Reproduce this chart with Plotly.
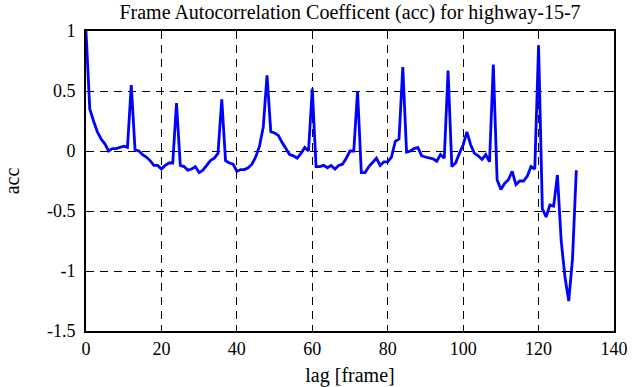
import plotly.graph_objects as go

lags = list(range(0, 131))
acc = [
    1.00, 0.35, 0.25, 0.16, 0.10, 0.06, 0.00, 0.02, 0.02, 0.03,   # 0-9
    0.04, 0.03, 0.55, 0.01, 0.00, -0.03, -0.05, -0.08, -0.12, -0.12,  # 10-19
    -0.15, -0.12, -0.10, -0.10, 0.40, -0.12, -0.13, -0.16, -0.15, -0.13,  # 20-29
    -0.18, -0.16, -0.12, -0.08, -0.06, -0.02, 0.43, -0.08, -0.10, -0.11,  # 30-39
    -0.17, -0.155, -0.155, -0.14, -0.11, -0.05, 0.04, 0.20, 0.63, 0.16,  # 40-49
    0.15, 0.13, 0.07, 0.02, -0.03, -0.04, -0.06, -0.02, 0.03, 0.00,  # 50-59
    0.52, -0.13, -0.13, -0.12, -0.14, -0.12, -0.15, -0.12, -0.11, -0.06,  # 60-69
    0.00, 0.00, 0.50, -0.18, -0.18, -0.13, -0.09, -0.06, -0.12, -0.09,  # 70-79
    -0.09, -0.05, 0.08, 0.10, 0.70, -0.01, 0.00, 0.02, 0.03, -0.04,  # 80-89
    -0.05, -0.06, -0.065, -0.085, -0.03, -0.06, 0.67, -0.13, -0.10, -0.02,  # 90-99
    0.05, 0.16, 0.05, -0.02, -0.04, -0.07, -0.03, -0.09, 0.72, -0.24,  # 100-109
    -0.32, -0.27, -0.24, -0.17, -0.28, -0.25, -0.25, -0.21, -0.13, -0.15,  # 110-119
    0.88, -0.48, -0.55, -0.45, -0.46, -0.20, -0.75, -1.05, -1.25, -0.90,  # 120-129
    -0.16,  # 130
]

x_tickvals = [0, 20, 40, 60, 80, 100, 120, 140]
x_ticktext = ["0", "20", "40", "60", "80", "100", "120", "140"]
y_tickvals = [-1.5, -1, -0.5, 0, 0.5, 1]
y_ticktext = ["-1.5", "-1", "-0.5", "0", "0.5", "1"]

FONT = "Liberation Serif, Times New Roman, serif"

fig = go.Figure()
fig.add_trace(go.Scatter(
    x=lags, y=acc, mode="lines",
    line=dict(color="#0000ff", width=2.8),
    showlegend=False,
))

axis_common = dict(
    showline=True, linecolor="black", linewidth=2, mirror="allticks",
    ticks="inside", ticklen=5, tickcolor="black", tickwidth=1,
    showgrid=True, gridcolor="black", gridwidth=1, griddash="8px,6px",
    zeroline=False, automargin=False,
    tickfont=dict(family=FONT, size=18, color="black"),
)

fig.update_layout(
    width=635, height=387,
    margin=dict(l=86, r=21, t=31, b=56),
    paper_bgcolor="white", plot_bgcolor="white",
    font=dict(family=FONT, size=18, color="black"),
    title=dict(
        text="Frame Autocorrelation Coefficent (acc) for highway-15-7",
        x=0.5, xref="paper", xanchor="center",
        y=1 - 12 / 387, yref="container", yanchor="middle",
        font=dict(family=FONT, size=20, color="black"),
        automargin=False,
    ),
    xaxis=dict(
        range=[0, 140], tickvals=x_tickvals, ticktext=x_ticktext,
        title=dict(text="lag [frame]", standoff=10,
                   font=dict(family=FONT, size=20, color="black")),
        **axis_common,
    ),
    yaxis=dict(
        range=[-1.5, 1], tickvals=y_tickvals, ticktext=y_ticktext,
        ticklabelstandoff=5,
        title=dict(text="acc", standoff=22,
                   font=dict(family=FONT, size=20, color="black")),
        **axis_common,
    ),
)

fig.write_html(
    "out.html",
    config={"displayModeBar": False},
    post_script="document.body.style.margin='0';document.body.style.overflow='hidden';",
)
